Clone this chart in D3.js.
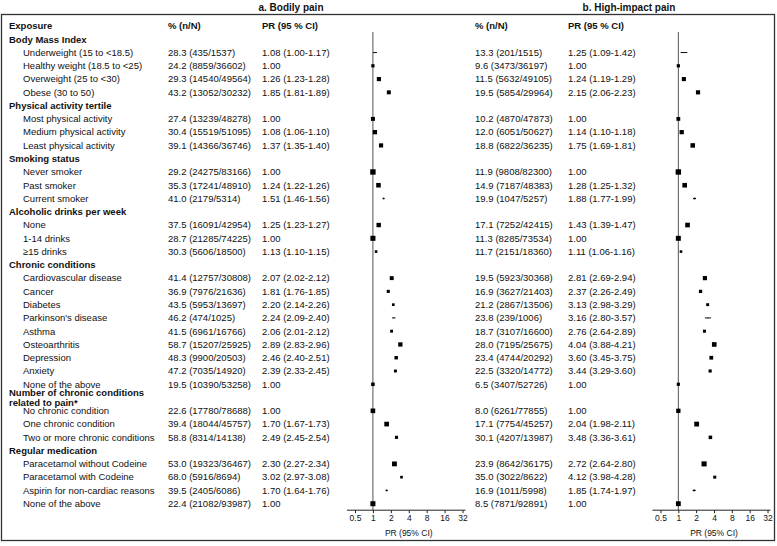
<!DOCTYPE html>
<html lang="en">
<head>
<meta charset="utf-8">
<title>Pain forest plot</title>
<script src="https://cdn.jsdelivr.net/npm/d3@7"></script>
<style>
  body { margin: 0; background: #fff; }
  svg text { font-family: "Liberation Sans", Arial, sans-serif; fill: #111; }
</style>
</head>
<body>
<div id="chart"></div>
<script>
// rows of the table, top to bottom (index 0 is the column header row)
var rowLabels = ["Exposure",
  "Body Mass Index", "Underweight (15 to <18.5)", "Healthy weight (18.5 to <25)", "Overweight (25 to <30)", "Obese (30 to 50)",
  "Physical activity tertile", "Most physical activity", "Medium physical activity", "Least physical activity",
  "Smoking status", "Never smoker", "Past smoker", "Current smoker",
  "Alcoholic drinks per week", "None", "1-14 drinks", "\u226515 drinks",
  "Chronic conditions", "Cardiovascular disease", "Cancer", "Diabetes", "Parkinson's disease", "Asthma",
  "Osteoarthritis", "Depression", "Anxiety", "None of the above",
  "Number of chronic conditions\nrelated to pain*", "No chronic condition", "One chronic condition", "Two or more chronic conditions",
  "Regular medication", "Paracetamol without Codeine", "Paracetamol with Codeine", "Aspirin for non-cardiac reasons", "None of the above"];
var rowKind = ["head",
  "group", "item", "item", "item", "item",
  "group", "item", "item", "item",
  "group", "item", "item", "item",
  "group", "item", "item", "item",
  "group", "item", "item", "item", "item", "item", "item", "item", "item", "item",
  "group", "item", "item", "item",
  "group", "item", "item", "item", "item"];

// a. Bodily pain
var pctA = [null, null, 28.3, 24.2, 29.3, 43.2, null, 27.4, 30.4, 39.1, null, 29.2, 35.3, 41.0, null, 37.5, 28.7, 30.3,
  null, 41.4, 36.9, 43.5, 46.2, 41.5, 58.7, 48.3, 47.2, 19.5, null, 22.6, 39.4, 58.8, null, 53.0, 68.0, 39.5, 22.4];
var nA = [null, null, 435, 8859, 14540, 13052, null, 13239, 15519, 14366, null, 24275, 17241, 2179, null, 16091, 21285, 5606,
  null, 12757, 7976, 5953, 474, 6961, 15207, 9900, 7035, 10390, null, 17780, 18044, 8314, null, 19323, 5916, 2405, 21082];
var totA = [null, null, 1537, 36602, 49564, 30232, null, 48278, 51095, 36746, null, 83166, 48910, 5314, null, 42954, 74225, 18500,
  null, 30808, 21636, 13697, 1025, 16766, 25925, 20503, 14920, 53258, null, 78688, 45757, 14138, null, 36467, 8694, 6086, 93987];
var prA = [null, null, 1.08, 1.00, 1.26, 1.85, null, 1.00, 1.08, 1.37, null, 1.00, 1.24, 1.51, null, 1.25, 1.00, 1.13,
  null, 2.07, 1.81, 2.20, 2.24, 2.06, 2.89, 2.46, 2.39, 1.00, null, 1.00, 1.70, 2.49, null, 2.30, 3.02, 1.70, 1.00];
var loA = [null, null, 1.00, null, 1.23, 1.81, null, null, 1.06, 1.35, null, null, 1.22, 1.46, null, 1.23, null, 1.10,
  null, 2.02, 1.76, 2.14, 2.09, 2.01, 2.83, 2.40, 2.33, null, null, null, 1.67, 2.45, null, 2.27, 2.97, 1.64, null];
var hiA = [null, null, 1.17, null, 1.28, 1.89, null, null, 1.10, 1.40, null, null, 1.26, 1.56, null, 1.27, null, 1.15,
  null, 2.12, 1.85, 2.26, 2.40, 2.12, 2.96, 2.51, 2.45, null, null, null, 1.73, 2.54, null, 2.34, 3.08, 1.76, null];

// b. High-impact pain
var pctB = [null, null, 13.3, 9.6, 11.5, 19.5, null, 10.2, 12.0, 18.8, null, 11.9, 14.9, 19.9, null, 17.1, 11.3, 11.7,
  null, 19.5, 16.9, 21.2, 23.8, 18.7, 28.0, 23.4, 22.5, 6.5, null, 8.0, 17.1, 30.1, null, 23.9, 35.0, 16.9, 8.5];
var nB = [null, null, 201, 3473, 5632, 5854, null, 4870, 6051, 6822, null, 9808, 7187, 1047, null, 7252, 8285, 2151,
  null, 5923, 3627, 2867, 239, 3107, 7195, 4744, 3320, 3407, null, 6261, 7754, 4207, null, 8642, 3022, 1011, 7871];
var totB = [null, null, 1515, 36197, 49105, 29964, null, 47873, 50627, 36235, null, 82300, 48383, 5257, null, 42415, 73534, 18360,
  null, 30368, 21403, 13506, 1006, 16600, 25675, 20292, 14772, 52726, null, 77855, 45257, 13987, null, 36175, 8622, 5998, 92891];
var prB = [null, null, 1.25, 1.00, 1.24, 2.15, null, 1.00, 1.14, 1.75, null, 1.00, 1.28, 1.88, null, 1.43, 1.00, 1.11,
  null, 2.81, 2.37, 3.13, 3.16, 2.76, 4.04, 3.60, 3.44, 1.00, null, 1.00, 2.04, 3.48, null, 2.72, 4.12, 1.85, 1.00];
var loB = [null, null, 1.09, null, 1.19, 2.06, null, null, 1.10, 1.69, null, null, 1.25, 1.77, null, 1.39, null, 1.06,
  null, 2.69, 2.26, 2.98, 2.80, 2.64, 3.88, 3.45, 3.29, null, null, null, 1.98, 3.36, null, 2.64, 3.98, 1.74, null];
var hiB = [null, null, 1.42, null, 1.29, 2.23, null, null, 1.18, 1.81, null, null, 1.32, 1.99, null, 1.47, null, 1.16,
  null, 2.94, 2.49, 3.29, 3.57, 2.89, 4.21, 3.75, 3.60, null, null, null, 2.11, 3.61, null, 2.80, 4.28, 1.97, null];

var prTicks = [0.5, 1, 2, 4, 8, 16, 32];

var W = 777, H = 546;
var svg = d3.select("#chart").append("svg")
  .attr("width", W).attr("height", H);

// outer frame
svg.append("rect")
  .attr("x", 1.5).attr("y", 14.5)
  .attr("width", 773).attr("height", 526)
  .attr("fill", "none").attr("stroke", "#333").attr("stroke-width", 1.3);

var y = d3.scaleLinear().domain([0, rowLabels.length - 1]).range([26, 503.7]);
var axisY = y(rowLabels.length - 1) + 6.5;

// exposure labels
var lab = svg.append("g").selectAll("text")
  .data(rowLabels)
  .enter().append("text")
  .attr("x", function(d, i) { return rowKind[i] == "item" ? 23 : 9; })
  .attr("y", function(d, i) { return y(i); })
  .attr("font-size", 9.5)
  .attr("font-weight", function(d, i) { return rowKind[i] == "item" ? "normal" : "bold"; });
lab.each(function(d) {
  var parts = d.split("\n");
  var t = d3.select(this);
  parts.forEach(function(p, k) {
    t.append("tspan")
      .attr("x", t.attr("x"))
      .attr("dy", k == 0 ? (0.35 - (parts.length - 1) * 0.5) + "em" : "1em")
      .text(p);
  });
});

function fmt(v) { return v.toFixed(2); }

function drawPanel(title, titleX, pctX, prX, xRange, pct, n, tot, pr, lo, hi) {
  var g = svg.append("g");

  g.append("text")
    .attr("x", titleX).attr("y", 7).attr("dy", "0.35em")
    .attr("text-anchor", "middle")
    .attr("font-size", 10).attr("font-weight", "bold")
    .text(title);

  g.append("text").attr("x", pctX).attr("y", y(0)).attr("dy", "0.35em")
    .attr("font-size", 9.5).attr("font-weight", "bold").text("% (n/N)");
  g.append("text").attr("x", prX).attr("y", y(0)).attr("dy", "0.35em")
    .attr("font-size", 9.5).attr("font-weight", "bold").text("PR (95 % CI)");

  var idx = d3.range(rowLabels.length).filter(function(i) { return pr[i] != null; });

  g.append("g").selectAll("text")
    .data(idx).enter().append("text")
    .attr("x", pctX).attr("y", function(i) { return y(i); }).attr("dy", "0.35em")
    .attr("font-size", 9.5)
    .text(function(i) { return pct[i].toFixed(1) + " (" + n[i] + "/" + tot[i] + ")"; });

  g.append("g").selectAll("text")
    .data(idx).enter().append("text")
    .attr("x", prX).attr("y", function(i) { return y(i); }).attr("dy", "0.35em")
    .attr("font-size", 9.5)
    .text(function(i) { return lo[i] == null ? fmt(pr[i]) : fmt(pr[i]) + " (" + fmt(lo[i]) + "-" + fmt(hi[i]) + ")"; });

  var x = d3.scaleLog().base(2).domain([0.5, 32]).range(xRange);
  // box side grows with sqrt of cases
  var size = d3.scaleSqrt().domain([0, d3.max(n)]).range([0, 5.4]);

  // null line
  g.append("line")
    .attr("x1", x(1)).attr("x2", x(1))
    .attr("y1", 32).attr("y2", axisY)
    .attr("stroke", "#555").attr("stroke-width", 1);

  // axis
  g.append("line")
    .attr("x1", xRange[0] - 8).attr("x2", xRange[1] + 3)
    .attr("y1", axisY).attr("y2", axisY)
    .attr("stroke", "#222").attr("stroke-width", 1);
  var ax = g.append("g")
    .attr("transform", "translate(0," + axisY + ")")
    .call(d3.axisBottom(x).tickValues(prTicks).tickFormat(function(d) { return d; }).tickSize(3).tickPadding(2));
  ax.select(".domain").remove();
  ax.selectAll("line").attr("stroke", "#222");
  ax.selectAll("text").attr("font-size", 8.5).attr("font-family", "Liberation Sans, Arial, sans-serif").attr("fill", "#111");

  g.append("text")
    .attr("x", (xRange[0] + xRange[1]) / 2).attr("y", axisY + 26)
    .attr("text-anchor", "middle").attr("font-size", 8.5)
    .text("PR (95% CI)");

  // confidence intervals
  g.append("g").selectAll("line")
    .data(idx.filter(function(i) { return lo[i] != null; }))
    .enter().append("line")
    .attr("x1", function(i) { return x(lo[i]); })
    .attr("x2", function(i) { return x(hi[i]); })
    .attr("y1", function(i) { return y(i); })
    .attr("y2", function(i) { return y(i); })
    .attr("stroke", "#111").attr("stroke-width", 1);

  // estimate boxes
  g.append("g").selectAll("rect")
    .data(idx).enter().append("rect")
    .attr("x", function(i) { return x(pr[i]) - size(n[i]) / 2; })
    .attr("y", function(i) { return y(i) - size(n[i]) / 2; })
    .attr("width", function(i) { return size(n[i]); })
    .attr("height", function(i) { return size(n[i]); })
    .attr("fill", "#000");
}

drawPanel("a. Bodily pain", 291, 168, 262, [355, 462.5], pctA, nA, totA, prA, loA, hiA);
drawPanel("b. High-impact pain", 629, 475, 568, [660.5, 767.5], pctB, nB, totB, prB, loB, hiB);
</script>
</body>
</html>
